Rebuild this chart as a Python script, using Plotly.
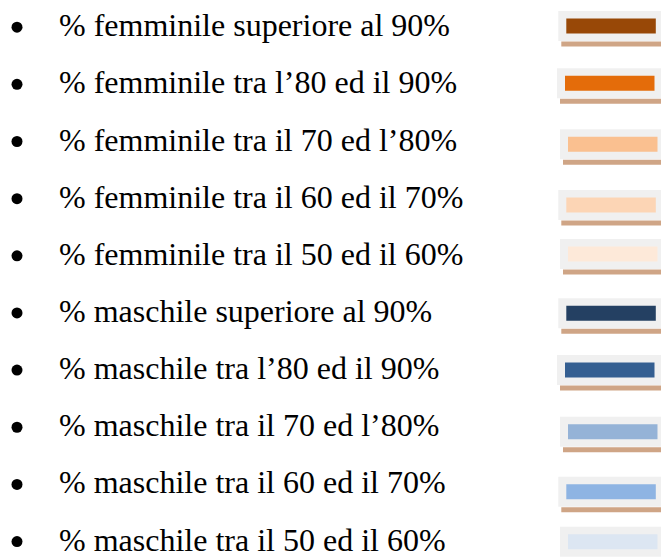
import plotly.graph_objects as go

# ---- data ----
labels = [
    "% femminile superiore al 90%",
    "% femminile tra l\u201980 ed il 90%",
    "% femminile tra il 70 ed l\u201980%",
    "% femminile tra il 60 ed il 70%",
    "% femminile tra il 50 ed il 60%",
    "% maschile superiore al 90%",
    "% maschile tra l\u201980 ed il 90%",
    "% maschile tra il 70 ed l\u201980%",
    "% maschile tra il 60 ed il 70%",
    "% maschile tra il 50 ed il 60%",
]
colors = [
    "#984807", "#E46C0A", "#FAC090", "#FCD5B5", "#FDE9D9",
    "#244062", "#355F91", "#95B3D7", "#8EB4E3", "#DCE6F2",
]

# ---- layout constants ----
W, H = 661, 557
text_x = 57
bullet_x = 17
first_baseline = 35.7
row_step = 57.15
swatch_top = [11, 68.3, 129.3, 190, 239, 298.3, 355, 416.7, 476.7, 526.7]
swatch_left = [558.3, 557, 560, 558.3, 560, 558.3, 557, 560, 558.3, 560]
FONT = "Liberation Serif"
FS = 32

fig = go.Figure()

n = len(labels)
centers = [first_baseline + row_step * i - 10.5 for i in range(n)]

# bullets
fig.add_trace(go.Scatter(
    x=[bullet_x] * n, y=[c + 2 for c in centers], mode="markers",
    marker=dict(color="black", size=11, line=dict(width=0)),
    hoverinfo="skip", showlegend=False,
))

shapes = []
annotations = []
for i, (lab, col) in enumerate(zip(labels, colors)):
    top = swatch_top[i]
    left = swatch_left[i]
    # grey frame
    shapes.append(dict(type="rect", xref="x", yref="y", x0=left, x1=W + 5,
                       y0=top, y1=top + 30, fillcolor="#F0F0F0", line=dict(width=0), layer="below"))
    # tan underline
    shapes.append(dict(type="rect", xref="x", yref="y", x0=left + 3, x1=W + 5,
                       y0=top + 30.5, y1=top + 35.5, fillcolor="#CFA586", line=dict(width=0), layer="below"))
    # coloured swatch
    shapes.append(dict(type="rect", xref="x", yref="y", x0=left + 8, x1=left + 97.5,
                       y0=top + 7.5, y1=top + 22.5, fillcolor=col, line=dict(width=0), layer="below"))
    annotations.append(dict(x=text_x, y=centers[i], xref="x", yref="y", text=lab,
                            showarrow=False, xanchor="left", yanchor="middle",
                            font=dict(family=FONT, size=FS, color="black")))

fig.update_layout(
    width=W, height=H, margin=dict(l=0, r=0, t=0, b=0),
    paper_bgcolor="white", plot_bgcolor="white",
    font=dict(family=FONT),
    xaxis=dict(range=[0, W], visible=False, fixedrange=True),
    yaxis=dict(range=[H, 0], visible=False, fixedrange=True),
    shapes=shapes, annotations=annotations, showlegend=False,
)

fig.write_html("out.html", config={"displayModeBar": False},
               post_script="document.body.style.margin='0';")
